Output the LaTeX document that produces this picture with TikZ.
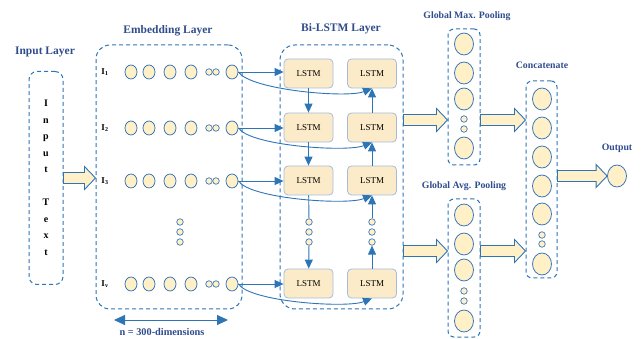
\documentclass[tikz,border=0pt]{standalone}
\usepackage{fontspec}
\setmainfont{Liberation Serif}
\usetikzlibrary{arrows.meta, positioning, calc, shapes.geometric}

\definecolor{titleblue}{HTML}{2F4C8C}
\definecolor{lineblue}{HTML}{2E75B6}
\definecolor{celledge}{HTML}{3C78B9}
\definecolor{cellfill}{HTML}{FFF0C8}
\definecolor{lstmfill}{HTML}{FCEBC8}
\definecolor{lstmedge}{HTML}{A6BCDC}

% horizontal block arrow between two points
\newcommand{\blockarrow}[2]{%
  \draw[blockarr] let \p1=(#1), \p2=(#2) in
    (\x1,\y1+5.5pt) -- (\x2-11pt,\y1+5.5pt) -- (\x2-11pt,\y1+11.5pt) -- (\x2,\y1)
    -- (\x2-11pt,\y1-11.5pt) -- (\x2-11pt,\y1-5.5pt) -- (\x1,\y1-5.5pt) -- cycle;}

\begin{document}
\begin{tikzpicture}[x=1pt, y=-1pt,
    title/.style={font=\bfseries\fontsize{11.5}{13}\selectfont, text=titleblue},
    subtitle/.style={font=\bfseries\fontsize{9.8}{11}\selectfont, text=titleblue},
    layer/.style={draw=lineblue, line width=1pt, dash pattern=on 4pt off 3pt, rounded corners=14pt, inner sep=0pt},
    pool/.style={layer, rounded corners=6pt},
    cell/.style={ellipse, draw=celledge, fill=cellfill, line width=0.8pt, minimum width=12pt, minimum height=14pt, inner sep=0pt},
    bigcell/.style={cell, minimum width=19pt, minimum height=22pt},
    dot/.style={circle, draw=celledge, fill=cellfill, line width=0.7pt, minimum size=6.5pt, inner sep=0pt},
    lstm/.style={draw=lstmedge, fill=lstmfill, rounded corners=4pt, line width=0.8pt, minimum width=49pt, minimum height=29pt, font=\fontsize{9}{10}\selectfont},
    ilabel/.style={font=\bfseries\fontsize{9}{10}\selectfont},
    link/.style={draw=lineblue, line width=0.9pt, -{Triangle[length=9pt, width=8pt]}},
    blockarr/.style={draw=lineblue, fill=cellfill, line width=0.9pt}
]
\useasboundingbox (0,0) rectangle (643,339);

% Input layer
\node[title] (tin) at (45,52) {Input Layer};
\node[layer, rounded corners=8pt, minimum width=34pt, minimum height=213pt, align=center,
      font=\bfseries\fontsize{10}{16.5}\selectfont] (intext) at (46,178)
      {I\\n\\p\\u\\t\\[16.5pt]T\\e\\x\\t};

% Embedding layer
\node[title] (temb) at (168,31) {Embedding Layer};
\node[layer, minimum width=146pt, minimum height=264pt] (emb) at (169,177) {};
\foreach \r/\y in {1/72, 2/128, 3/181, v/284} {
  \node[ilabel] (lab-\r) at (105,\y) {I\textsubscript{\r}};
  \foreach \c/\x in {1/131, 2/149, 3/170, 4/191, 6/232}
    \node[cell] (c-\r-\c) at (\x,\y) {};
  \node[dot] (s-\r-1) at (209,\y) {};
  \node[dot] (s-\r-2) at (216,\y) {};
}
\foreach \i/\y in {1/222, 2/232, 3/242}
  \node[dot] (ed-\i) at (180,\y) {};

\coordinate (dl) at (114,320);
\coordinate (dr) at (228,320);
\draw[lineblue, line width=0.9pt, {Triangle[length=11pt, width=10pt]}-{Triangle[length=11pt, width=10pt]}] (dl) -- (dr);
\node[subtitle, font=\bfseries\fontsize{10.3}{12}\selectfont] (tdim) at (162,332) {n = 300-dimensions};

% Bi-LSTM layer
\node[title] (tlstm) at (341,29) {Bi-LSTM Layer};
\node[layer, rounded corners=15pt, minimum width=123pt, minimum height=264pt] (bilstm) at (341.5,177) {};
\foreach \r/\y in {1/73.5, 2/127.5, 3/180.5, v/283.5} {
  \node[lstm] (f-\r) at (308.5,\y) {LSTM};
  \node[lstm] (b-\r) at (372,\y) {LSTM};
}
\foreach \i/\y in {1/222, 2/232, 3/242} {
  \node[dot] (fd-\i) at (309,\y) {};
  \node[dot] (bd-\i) at (372,\y) {};
}

% embedding -> LSTM
\foreach \r in {1,2,3,v} {
  \draw[link] (c-\r-6.east) -- (c-\r-6.east -| f-\r.west);
  \draw[link] (c-\r-6.east) .. controls +(12,18) and +(-25,10) .. (b-\r.south);
}

% forward / backward chains
\draw[link] (f-1) -- (f-2);
\draw[link] (f-2) -- (f-3);
\draw[lineblue, line width=0.9pt] (f-3) -- (fd-1);
\draw[link] (fd-3) -- (f-v);
\draw[link] (b-v) -- (bd-3);
\draw[link] (bd-1) -- (b-3);
\draw[link] (b-3) -- (b-2);
\draw[link] (b-2) -- (b-1);

% Pooling layers
\node[subtitle] (tmax) at (467,16) {Global Max. Pooling};
\node[pool, minimum width=32pt, minimum height=136pt] (maxpool) at (464,97) {};
\foreach \i/\y in {1/44, 2/73, 3/99, 4/148}
  \node[bigcell] (mp-\i) at (464,\y) {};
\node[dot] (mpd-1) at (464,119) {};
\node[dot] (mpd-2) at (464,129) {};

\node[subtitle] (tavg) at (464,186) {Global Avg. Pooling};
\node[pool, minimum width=32pt, minimum height=138pt] (avgpool) at (464,268) {};
\foreach \i/\y in {1/215, 2/244, 3/270, 4/321}
  \node[bigcell] (ap-\i) at (464,\y) {};
\node[dot] (apd-1) at (464,291) {};
\node[dot] (apd-2) at (464,301) {};

% Concatenate
\node[subtitle] (tcat) at (542,65) {Concatenate};
\node[pool, minimum width=31pt, minimum height=197pt] (concat) at (541.5,179.5) {};
\foreach \i/\y in {1/99, 2/128, 3/157, 4/186, 5/214, 6/264}
  \node[bigcell] (cc-\i) at (542,\y) {};
\node[dot] (ccd-1) at (542,235) {};
\node[dot] (ccd-2) at (542,244) {};

% Output
\node[subtitle] (tout) at (617,148) {Output};
\node[bigcell] (out) at (617,176) {};

% block arrows
\coordinate (maxin) at ($(maxpool.west)+(0,23)$);
\coordinate (avgin) at ($(avgpool.west)+(0,-17)$);
\blockarrow{intext.east}{emb.west}
\blockarrow{bilstm.east |- maxin}{maxin}
\blockarrow{bilstm.east |- avgin}{avgin}
\blockarrow{maxpool.east |- maxin}{concat.west |- maxin}
\blockarrow{avgpool.east |- avgin}{concat.west |- avgin}
\blockarrow{concat.east |- out}{out.west}
\end{tikzpicture}
\end{document}
